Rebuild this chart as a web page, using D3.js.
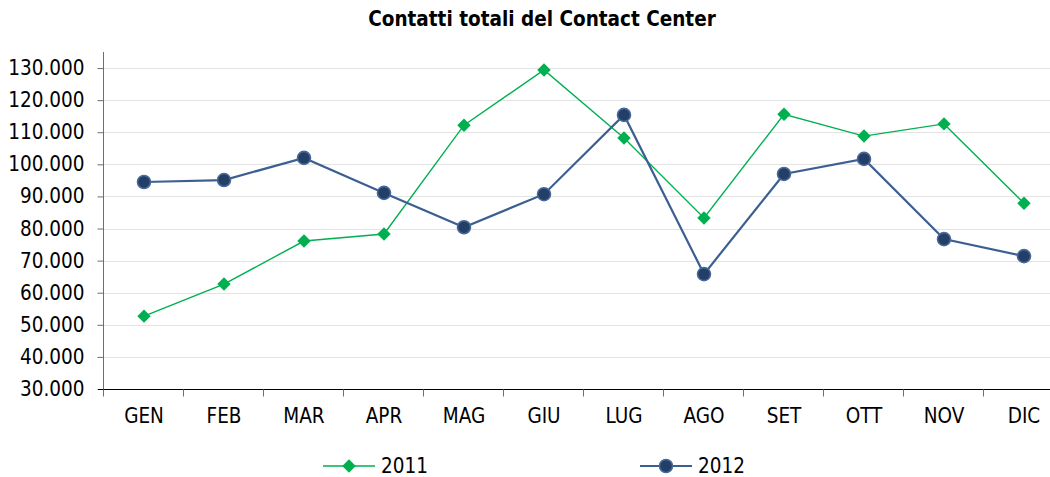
<!DOCTYPE html>
<html>
  <head>
    <meta charset="utf-8">
    <title>Contatti totali del Contact Center</title>
    <script src="https://d3js.org/d3.v7.min.js" charset="utf-8"></script>
    <style>
      body { margin: 0; background: #fff; }
      text { font-family: "DejaVu Sans Condensed", "DejaVu Sans", sans-serif; fill: #000; }
    </style>
  </head>
  <body>
    <script type="text/javascript">

      //Data
      var months = ["GEN", "FEB", "MAR", "APR", "MAG", "GIU", "LUG", "AGO", "SET", "OTT", "NOV", "DIC"];
      var values2011 = [52700, 62700, 76100, 78300, 112200, 129400, 108200, 83300, 115600, 108800, 112600, 87900];
      var values2012 = [94500, 95100, 102000, 91100, 80400, 90700, 115400, 65800, 97000, 101700, 76700, 71400];
      var yTicks = [30000, 40000, 50000, 60000, 70000, 80000, 90000, 100000, 110000, 120000, 130000];

      //Size
      var w = 1050;
      var h = 477;
      var plotLeft = 104, plotRight = 1064, plotTop = 52, plotBottom = 389;

      var svg = d3.select("body")
                  .append("svg")
                  .attr("width", w)
                  .attr("height", h);

      //Scales
      var xScale = d3.scaleBand()
                     .domain(months)
                     .range([plotLeft, plotRight]);

      var yScale = d3.scaleLinear()
                     .domain([30000, 135000])
                     .range([plotBottom, plotTop]);

      var fmt = function(d) {
        return d3.format(",")(d).replace(/,/g, ".");
      };

      //Gridlines
      svg.append("g")
         .selectAll("line")
         .data(yTicks.slice(1))
         .enter()
         .append("line")
         .attr("x1", plotLeft)
         .attr("x2", w)
         .attr("y1", function(d) { return Math.round(yScale(d)) + 0.5; })
         .attr("y2", function(d) { return Math.round(yScale(d)) + 0.5; })
         .attr("stroke", "#e3e3e3")
         .attr("stroke-width", 1.2);

      //Y axis
      var yAxis = svg.append("g")
         .attr("transform", "translate(" + (plotLeft - 0.5) + ",0)")
         .call(d3.axisLeft(yScale).tickValues(yTicks).tickFormat(fmt).tickSize(6).tickSizeOuter(0));
      yAxis.select(".domain").attr("stroke", "#6e6e6e").attr("d", "M0," + plotTop + "V" + plotBottom);
      yAxis.selectAll(".tick line").attr("stroke", "#6e6e6e");
      yAxis.selectAll("text")
           .attr("font-size", "20.5px")
           .attr("font-family", null)
           .attr("fill", "#000")
           .attr("x", -19);

      //X axis
      var xAxis = svg.append("g")
         .attr("transform", "translate(0," + (plotBottom + 0.5) + ")")
         .call(d3.axisBottom(xScale).tickSize(0).tickSizeOuter(0));
      xAxis.select(".domain").attr("stroke", "#000").attr("d", "M" + (plotLeft - 6) + ",0H" + w);
      xAxis.selectAll("text")
           .attr("font-size", "20.5px")
           .attr("font-family", null)
           .attr("fill", "#000")
           .attr("y", 19);
      xAxis.selectAll(".sep")
           .data(months)
           .enter()
           .append("line")
           .attr("x1", function(d) { return Math.round(xScale(d)) - 0.5; })
           .attr("x2", function(d) { return Math.round(xScale(d)) - 0.5; })
           .attr("y1", 0)
           .attr("y2", 7)
           .attr("stroke", "#6e6e6e");

      var cx = function(d, i) { return xScale(months[i]) + xScale.bandwidth() / 2; };

      //Lines
      var line = d3.line()
                   .x(function(d, i) { return cx(d, i); })
                   .y(function(d) { return yScale(d); });

      svg.append("path")
         .datum(values2011)
         .attr("d", line)
         .attr("fill", "none")
         .attr("stroke", "#00b050")
         .attr("stroke-width", 1.4);

      svg.append("path")
         .datum(values2012)
         .attr("d", line)
         .attr("fill", "none")
         .attr("stroke", "#3c5f92")
         .attr("stroke-width", 2.2);

      //Markers
      var diamond = d3.symbol().type(d3.symbolDiamond2).size(115);

      svg.selectAll(".m2011")
         .data(values2011)
         .enter()
         .append("path")
         .attr("class", "m2011")
         .attr("d", diamond)
         .attr("transform", function(d, i) { return "translate(" + cx(d, i) + "," + yScale(d) + ")"; })
         .attr("fill", "#00b050");

      svg.selectAll(".m2012")
         .data(values2012)
         .enter()
         .append("circle")
         .attr("class", "m2012")
         .attr("cx", cx)
         .attr("cy", function(d) { return yScale(d); })
         .attr("r", 6.5)
         .attr("fill", "#243f66")
         .attr("stroke", "#46699b")
         .attr("stroke-width", 1.6);

      //Title
      svg.append("text")
         .attr("x", 542)
         .attr("y", 26)
         .attr("text-anchor", "middle")
         .attr("font-weight", "bold")
         .attr("font-size", "20.5px")
         .text("Contatti totali del Contact Center");

      //Legend
      var legend = [
        { name: "2011", x: 323 },
        { name: "2012", x: 640 }
      ];
      var ly = 466;

      legend.forEach(function(l, i) {
        var g = svg.append("g");
        g.append("line")
         .attr("x1", l.x).attr("x2", l.x + 52)
         .attr("y1", ly).attr("y2", ly)
         .attr("stroke", i === 0 ? "#00b050" : "#3c5f92")
         .attr("stroke-width", i === 0 ? 1.4 : 2.2);
        if (i === 0) {
          g.append("path")
           .attr("d", diamond)
           .attr("transform", "translate(" + (l.x + 26) + "," + ly + ")")
           .attr("fill", "#00b050");
        } else {
          g.append("circle")
           .attr("cx", l.x + 26).attr("cy", ly).attr("r", 6.5)
           .attr("fill", "#243f66")
           .attr("stroke", "#46699b")
           .attr("stroke-width", 1.6);
        }
        g.append("text")
         .attr("x", l.x + 58)
         .attr("y", ly + 7)
         .attr("font-size", "20.5px")
         .text(l.name);
      });

    </script>
  </body>
</html>
